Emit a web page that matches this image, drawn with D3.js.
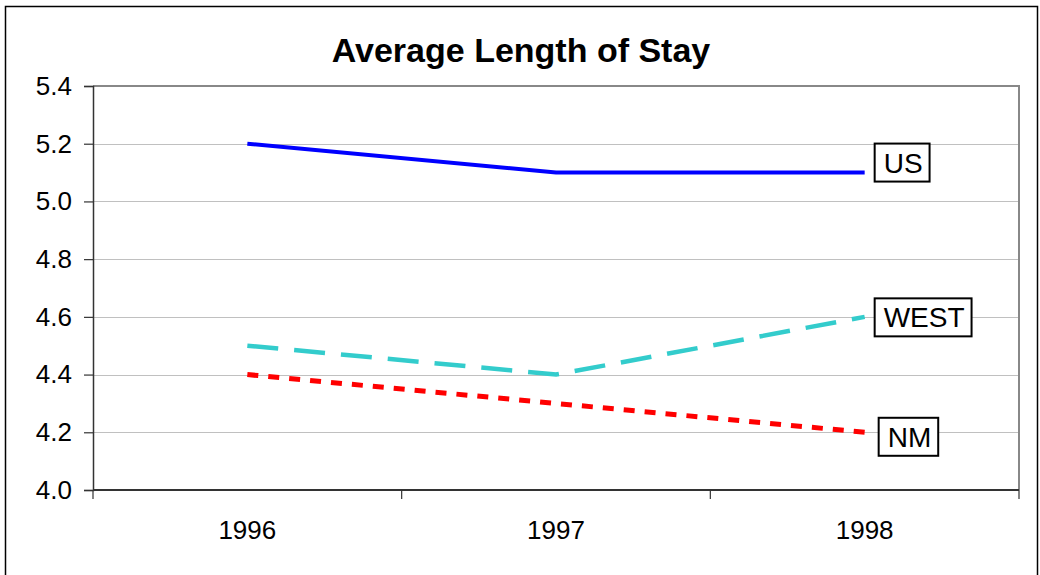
<!DOCTYPE html>
<html><head><meta charset="utf-8">
<script src="https://cdn.jsdelivr.net/npm/d3@7"></script>
<style>
html,body{margin:0;padding:0;background:#fff;}
svg{display:block;font-family:"Liberation Sans",Arial,sans-serif;}
</style></head>
<body>
<svg id="chart" width="1040" height="575"></svg>
<script>
const title = "Average Length of Stay";
const years = ["1996", "1997", "1998"];
const usValues = [5.2, 5.1, 5.1];
const westValues = [4.5, 4.4, 4.6];
const nmValues = [4.4, 4.3, 4.2];
const seriesNames = ["US", "WEST", "NM"];
const yTicks = [4.0, 4.2, 4.4, 4.6, 4.8, 5.0, 5.2, 5.4];

(function () {
const series = [
  {name: seriesNames[0], values: usValues, color: "#0000FF", width: 4, dash: null, dx: 10, dy: -10},
  {name: seriesNames[1], values: westValues, color: "#33CCCC", width: 4.5, dash: "31,16", dx: 10, dy: 0.5},
  {name: seriesNames[2], values: nmValues, color: "#FF0000", width: 5, dash: "11,10", dx: 14, dy: 4.5}
];

const svg = d3.select("#chart");
const pLeft = 93, pRight = 1019, pTop = 86, pBottom = 490;

// outer frame
svg.append("rect").attr("x", 5.5).attr("y", 6.5).attr("width", 1032).attr("height", 600)
  .attr("fill", "#fff").attr("stroke", "#000").attr("stroke-width", 1.5);

const x = d3.scaleBand().domain(years).range([pLeft, pRight]);
const y = d3.scaleLinear().domain([4.0, 5.4]).range([pBottom, pTop]);

// gridlines
svg.append("g").selectAll("line").data(yTicks.slice(1, -1)).join("line")
  .attr("x1", pLeft).attr("x2", pRight)
  .attr("y1", d => Math.round(y(d)) + 0.5).attr("y2", d => Math.round(y(d)) + 0.5)
  .attr("stroke", "#c0c0c0").attr("stroke-width", 1);

// plot border top/right
svg.append("path")
  .attr("d", `M${pLeft},${pTop} H${pRight} V${pBottom}`)
  .attr("fill", "none").attr("stroke", "#888").attr("stroke-width", 2);

// y axis
const yAxis = d3.axisLeft(y).tickValues(yTicks).tickFormat(d3.format(".1f")).tickSize(9).tickPadding(12);
const gy = svg.append("g").attr("transform", `translate(${pLeft},0)`).call(yAxis);
gy.select(".domain").attr("stroke", "#333").attr("stroke-width", 1.5);
gy.selectAll(".tick line").attr("stroke", "#333").attr("stroke-width", 1.2);
gy.selectAll(".tick text").attr("font-size", 26).attr("fill", "#000")
  .attr("font-family", "Liberation Sans, Arial, sans-serif");

// x axis
const xEdges = years.map(d => x(d)).concat([pRight]);
const gx = svg.append("g");
gx.append("line").attr("x1", pLeft).attr("x2", pRight).attr("y1", pBottom).attr("y2", pBottom)
  .attr("stroke", "#333").attr("stroke-width", 2);
gx.selectAll("line.tk").data(xEdges).join("line").attr("class", "tk")
  .attr("x1", d => d).attr("x2", d => d).attr("y1", pBottom).attr("y2", pBottom + 9)
  .attr("stroke", "#333").attr("stroke-width", 1.2);
gx.selectAll("text").data(years).join("text")
  .attr("x", d => x(d) + x.bandwidth() / 2).attr("y", 539)
  .attr("text-anchor", "middle").attr("font-size", 26).attr("fill", "#000")
  .text(d => d);

// lines
const line = d3.line().x((d, i) => x(years[i]) + x.bandwidth() / 2).y(d => y(d));
svg.append("g").selectAll("path").data(series).join("path")
  .attr("d", d => line(d.values))
  .attr("fill", "none").attr("stroke", d => d.color).attr("stroke-width", d => d.width)
  .attr("stroke-dasharray", d => d.dash).attr("stroke-linejoin", "miter");

// labels
const labelX = x(years[2]) + x.bandwidth() / 2;
const lg = svg.append("g").selectAll("g").data(series).join("g")
  .attr("transform", d => `translate(${labelX + d.dx},${y(d.values[2]) + d.dy})`);
lg.append("text").attr("x", 9).attr("y", 10).attr("font-size", 28).attr("fill", "#000")
  .text(d => d.name);
lg.each(function() {
  const g = d3.select(this);
  const bb = g.select("text").node().getBBox();
  g.insert("rect", "text").attr("x", 0).attr("y", -19)
    .attr("width", bb.width + 16).attr("height", 38)
    .attr("fill", "#fff").attr("stroke", "#000").attr("stroke-width", 2);
});

// title
svg.append("text").attr("x", 521).attr("y", 62).attr("text-anchor", "middle")
  .attr("font-size", 34).attr("font-weight", "bold").attr("fill", "#000").text(title);
})();
</script>
</body></html>
